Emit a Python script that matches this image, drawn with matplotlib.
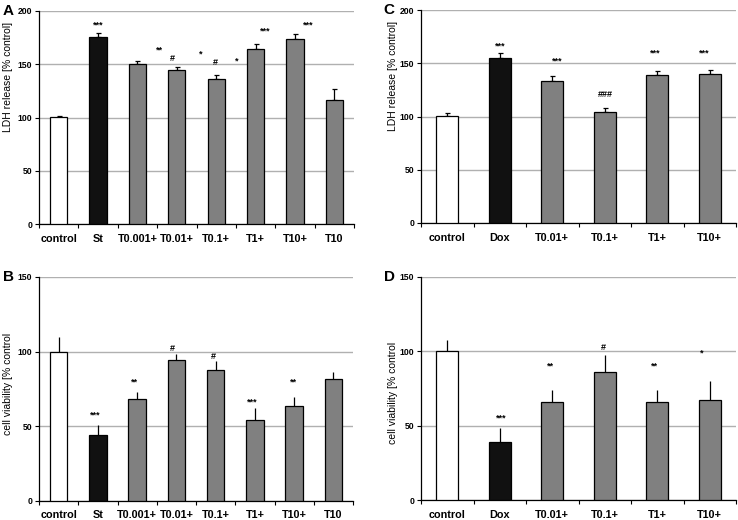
import matplotlib
matplotlib.use("Agg")
import matplotlib.pyplot as plt
from matplotlib.ticker import FixedLocator
import numpy as np

# ---------------- data ----------------
cats_ab = ["control", "St", "T0.001+", "T0.01+", "T0.1+", "T1+", "T10+", "T10"]
cats_cd = ["control", "Dox", "T0.01+", "T0.1+", "T1+", "T10+"]

ldh_a = [100.5, 175.3, 150.5, 144.6, 136.2, 164.6, 174.0, 116.1]
ldh_a_err = [1.2, 4.3, 2.9, 3.1, 3.7, 4.4, 4.7, 10.9]
colors_ab = ["white", "#111111", "#808080", "#808080", "#808080", "#808080", "#808080", "#808080"]
ann_a_text = ["***", "**", "#", "*", "#", "*", "***", "***"]
ann_a_x = [1.01, 2.57, 2.89, 3.61, 3.97, 4.53, 5.24, 6.34]
ann_a_y = [186.5, 163.7, 155.2, 159.3, 151.2, 153.0, 181.2, 186.5]

via_b = [100.0, 43.7, 68.4, 94.6, 87.4, 54.0, 63.5, 81.6]
via_b_err = [9.6, 7.0, 4.7, 4.0, 6.3, 7.8, 6.2, 4.9]
ann_b_text = ["***", "**", "#", "#", "***", "**"]
ann_b_x = [0.92, 1.93, 2.91, 3.95, 4.94, 5.98]
ann_b_y = [57.4, 79.2, 102.2, 96.6, 66.3, 79.3]

ldh_c = [100.3, 154.7, 133.1, 104.4, 138.75, 140.3]
ldh_c_err = [3.4, 4.7, 4.7, 4.0, 3.75, 3.7]
colors_cd = ["white", "#111111", "#808080", "#808080", "#808080", "#808080"]
ann_c_text = ["***", "***", "###", "***", "***"]
ann_c_x = [1.0, 2.09, 3.01, 3.96, 4.89]
ann_c_y = [166.3, 152.2, 121.0, 159.4, 159.4]

via_d = [100.0, 38.7, 66.1, 86.4, 66.1, 67.0]
via_d_err = [7.5, 9.8, 7.8, 11.4, 7.8, 13.1]
ann_d_text = ["***", "**", "#", "**", "*"]
ann_d_x = [1.02, 1.97, 2.98, 3.95, 4.84]
ann_d_y = [55.3, 90.4, 102.9, 90.4, 98.9]

# ---------------- style ----------------
FONT = ["Liberation Sans Narrow", "Liberation Sans", "DejaVu Sans"]
plt.rcParams["font.family"] = FONT

W, H = 738, 520
fig = plt.figure(figsize=(W / 100, H / 100), dpi=100)


def make_ax(l, t, r, b):
    return fig.add_axes([l / W, 1 - b / H, (r - l) / W, (b - t) / H])


def panel(ax, cats, vals, errs, colors, ymax, ystep, ylabel, letter,
          atext, ax_x, ax_y, width, caps, label_xy, letter_x):
    n = len(cats)
    x = np.arange(n)
    ax.bar(x, vals, width=width, color=colors, edgecolor="black",
           linewidth=0.9, zorder=3)
    ax.errorbar(x, vals, yerr=[np.zeros(n), errs], fmt="none",
                ecolor="black", elinewidth=0.9, capsize=caps, capthick=0.9,
                zorder=2)
    ax.set_xlim(-0.5, n - 0.5)
    ax.set_ylim(0, ymax)
    yt = np.arange(0, ymax + 1, ystep)
    ax.set_yticks(yt)
    ax.set_yticklabels([str(int(v)) for v in yt], fontsize=6.2,
                       fontweight="bold")
    ax.yaxis.grid(True, color="#b0b0b0", linewidth=1.0, zorder=0)
    ax.set_axisbelow(True)
    ax.set_xticks(x)
    ax.set_xticklabels(cats, fontsize=7.8, fontweight="bold")
    ax.tick_params(axis="x", which="major", length=0, pad=7)
    ax.xaxis.set_minor_locator(FixedLocator(np.arange(-0.5, n, 1.0)))
    ax.tick_params(axis="x", which="minor", length=3, width=0.8,
                   direction="out")
    ax.tick_params(axis="y", length=3, width=0.8, direction="out", pad=2)
    for s in ["top", "right"]:
        ax.spines[s].set_visible(False)
    for s in ["left", "bottom"]:
        ax.spines[s].set_linewidth(0.9)
    ax.set_ylabel(ylabel, fontsize=7.5)
    ax.yaxis.set_label_coords(label_xy[0], label_xy[1])
    for t, xx, yy in zip(atext, ax_x, ax_y):
        ax.text(xx, yy, t, ha="center", va="center", fontsize=6.5,
                fontweight="bold", zorder=4)
    ax.text(letter_x, 1.0, letter, transform=ax.transAxes, fontsize=11,
            fontweight="bold", ha="left", va="center",
            family=["Liberation Sans", "DejaVu Sans"])


axA = make_ax(39, 11, 354, 224)
panel(axA, cats_ab, ldh_a, ldh_a_err, colors_ab, 200, 50,
      "LDH release [% control]", "A", ann_a_text, ann_a_x, ann_a_y, 0.44,
      1.8, (-0.084, 0.69), -0.115)

axB = make_ax(39, 277, 353, 500.5)
panel(axB, cats_ab, via_b, via_b_err, colors_ab, 150, 50,
      "cell viability [% control", "B", ann_b_text, ann_b_x, ann_b_y, 0.44,
      0, (-0.084, 0.52), -0.115)

axC = make_ax(421, 10, 736, 223)
panel(axC, cats_cd, ldh_c, ldh_c_err, colors_cd, 200, 50,
      "LDH release [% control]", "C", ann_c_text, ann_c_x, ann_c_y, 0.41,
      1.8, (-0.072, 0.69), -0.12)

axD = make_ax(421, 277, 736, 500)
panel(axD, cats_cd, via_d, via_d_err, colors_cd, 150, 50,
      "cell viability [% control", "D", ann_d_text, ann_d_x, ann_d_y, 0.41,
      0, (-0.072, 0.48), -0.118)

fig.savefig("out.png", dpi=100)
